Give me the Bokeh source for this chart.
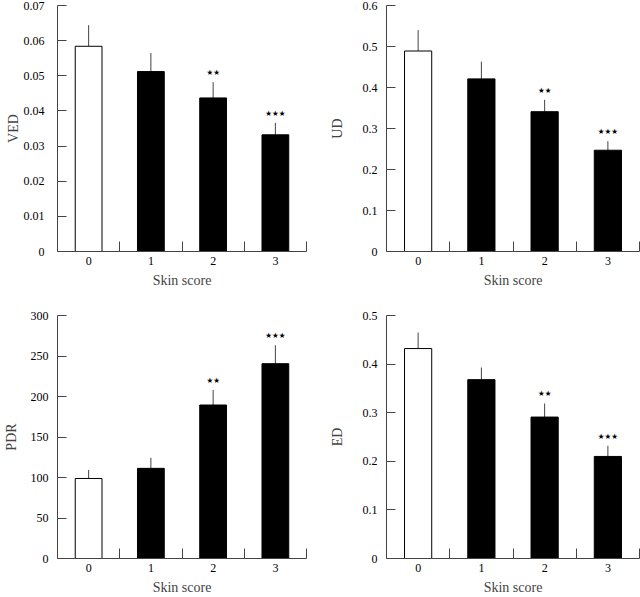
from bokeh.plotting import figure
from bokeh.layouts import gridplot
from bokeh.models import Range1d, FixedTicker, ColumnDataSource
from bokeh.core.properties import value
from bokeh.embed import file_html
from bokeh.resources import INLINE

# ---- data ----
skin_scores = [0, 1, 2, 3]
bar_colors = ["white", "black", "black", "black"]
stars = ["", "", "\u2605\u2605", "\u2605\u2605\u2605"]

ved_mean = [0.0584, 0.0512, 0.0437, 0.0332]
ved_err = [0.0060, 0.0053, 0.0045, 0.0034]
ved_ticks = [0, 0.01, 0.02, 0.03, 0.04, 0.05, 0.06, 0.07]
ved_labels = ["0", "0.01", "0.02", "0.03", "0.04", "0.05", "0.06", "0.07"]

ud_mean = [0.489, 0.421, 0.341, 0.247]
ud_err = [0.051, 0.042, 0.029, 0.022]
ud_ticks = [0, 0.1, 0.2, 0.3, 0.4, 0.5, 0.6]
ud_labels = ["0", "0.1", "0.2", "0.3", "0.4", "0.5", "0.6"]

pdr_mean = [98.8, 111.3, 189.5, 240.5]
pdr_err = [10.5, 13.0, 18.6, 22.7]
pdr_ticks = [0, 50, 100, 150, 200, 250, 300]
pdr_labels = ["0", "50", "100", "150", "200", "250", "300"]

ed_mean = [0.432, 0.368, 0.291, 0.210]
ed_err = [0.033, 0.025, 0.028, 0.022]
ed_ticks = [0, 0.1, 0.2, 0.3, 0.4, 0.5]
ed_labels = ["0", "0.1", "0.2", "0.3", "0.4", "0.5"]

FONT = "Liberation Serif"
AXIS_COLOR = "#444444"


def panel(ylabel, means, errs, ticks, labels, width, height,
          bl, br, bt, bb, label_standoff, ylabel_standoff):
    p = figure(width=width, height=height, output_backend="svg",
               toolbar_location=None,
               x_range=Range1d(-0.5, 3.5),
               y_range=Range1d(ticks[0], ticks[-1]),
               min_border_left=bl, min_border_right=br,
               min_border_top=bt, min_border_bottom=bb)
    p.outline_line_color = None
    p.xgrid.visible = False
    p.ygrid.visible = False
    p.background_fill_color = "white"
    p.border_fill_color = "white"

    tops = [m + e for m, e in zip(means, errs)]
    src = ColumnDataSource(dict(x=skin_scores, top=means, color=bar_colors,
                                etop=tops, stars=stars))
    p.segment(x0="x", y0="top", x1="x", y1="etop", source=src,
              line_color=AXIS_COLOR, line_width=1)
    p.vbar(x="x", top="top", bottom=0, width=0.43, source=src,
           fill_color="color", line_color="black", line_width=1)
    p.text(x="x", y="etop", text="stars", source=src,
           text_font=value("DejaVu Sans"), text_font_size="7.5px",
           text_align="center", text_baseline="bottom",
           y_offset=-5, text_color="black")

    xa = p.xaxis[0]
    xa.ticker = FixedTicker(ticks=skin_scores,
                            minor_ticks=[0.5, 1.5, 2.5, 3.5])
    xa.major_tick_line_color = None
    xa.major_tick_in = 0
    xa.major_tick_out = 0
    xa.minor_tick_in = 10
    xa.minor_tick_out = 0
    xa.minor_tick_line_color = AXIS_COLOR
    xa.axis_line_color = AXIS_COLOR
    xa.axis_label = "Skin score"
    xa.axis_label_text_font = FONT
    xa.axis_label_text_font_style = "normal"
    xa.axis_label_text_font_size = "14px"
    xa.axis_label_standoff = 5
    xa.major_label_text_font = FONT
    xa.major_label_text_font_size = "12px"
    xa.major_label_standoff = 5
    xa.major_label_text_color = "black"

    ya = p.yaxis[0]
    ya.ticker = FixedTicker(ticks=ticks)
    ya.major_label_overrides = dict(zip(ticks, labels))
    ya.major_tick_in = 9
    ya.major_tick_out = 0
    ya.minor_tick_in = 0
    ya.minor_tick_out = 0
    ya.major_tick_line_color = AXIS_COLOR
    ya.minor_tick_line_color = None
    ya.axis_line_color = AXIS_COLOR
    ya.axis_label = ylabel
    ya.axis_label_text_font = FONT
    ya.axis_label_text_font_style = "normal"
    ya.axis_label_text_font_size = "14px"
    ya.axis_label_standoff = ylabel_standoff
    ya.major_label_text_font = FONT
    ya.major_label_text_font_size = "12px"
    ya.major_label_standoff = label_standoff
    ya.major_label_text_color = "black"
    return p


p1 = panel("VED", ved_mean, ved_err, ved_ticks, ved_labels,
           320, 297, 53, 14, 5, 46, 13, 0)
p2 = panel("UD", ud_mean, ud_err, ud_ticks, ud_labels,
           320, 297, 66, 1, 5, 46, 9, 15)
p3 = panel("PDR", pdr_mean, pdr_err, pdr_ticks, pdr_labels,
           320, 300, 53, 14, 18, 39, 9, 9)
p4 = panel("ED", ed_mean, ed_err, ed_ticks, ed_labels,
           320, 300, 66, 1, 18, 39, 9, 15)

grid = gridplot([[p1, p2], [p3, p4]], toolbar_location=None)

open("out.html", "w").write(file_html(grid, INLINE))
